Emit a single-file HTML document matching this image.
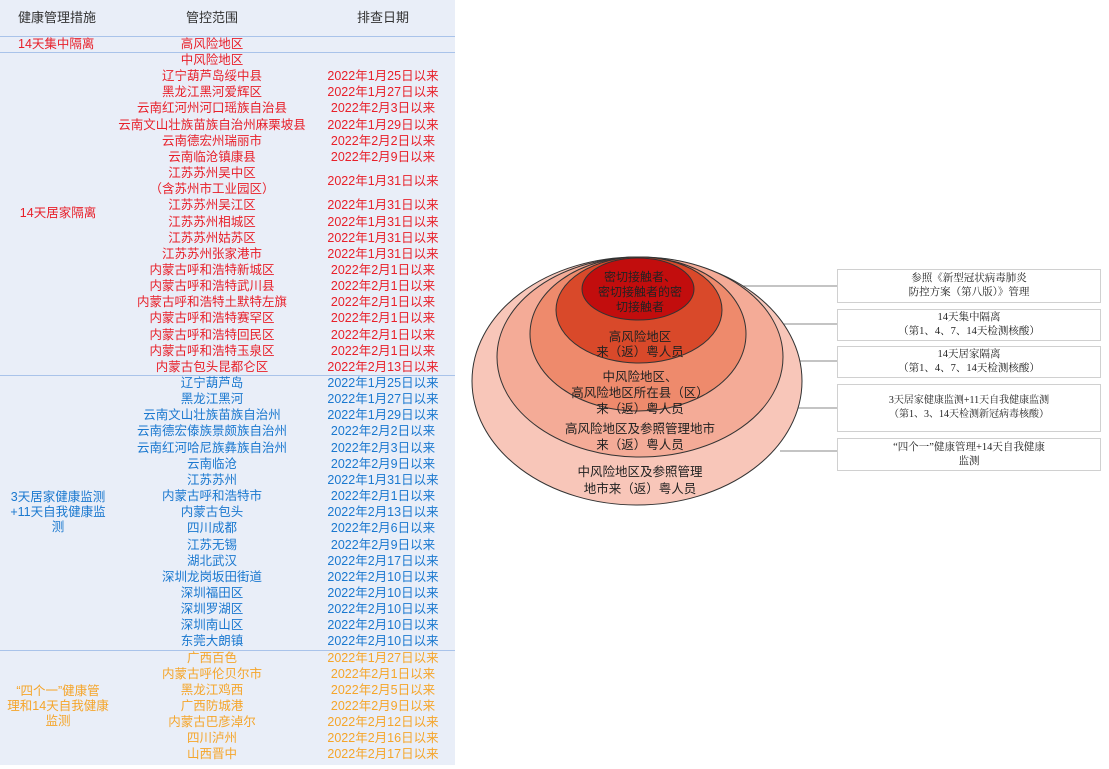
<!DOCTYPE html>
<html><head><meta charset="utf-8"><style>
body{margin:0;width:1109px;height:769px;background:#fff;position:relative;overflow:hidden;font-family:"Liberation Sans","Noto Sans CJK SC",sans-serif}
#tbl{position:absolute;left:0;top:0;width:455px;height:765px;background:#e9eef8}
.t{position:absolute;font-size:12.5px;line-height:16px;white-space:nowrap;text-align:center}
.c2{left:90px;width:244px}.c3{left:318px;width:130px}
.hl{position:absolute;left:0;width:455px;height:1px;background:#a9c3ea}
.box{position:absolute;left:837px;width:264px;border:1px solid #d0d0d0;background:#fff;font-family:"Liberation Serif","Noto Serif CJK SC",serif;font-size:10.5px;line-height:14px;text-align:center;color:#222;display:flex;align-items:center;justify-content:center;box-sizing:border-box}
.el{font-size:12.5px;fill:#222;text-anchor:middle;font-family:"Liberation Sans","Noto Sans CJK SC",sans-serif}
</style></head><body>
<div id="tbl">
<div class="t" style="left:18px;top:10px;color:#333;font-size:13px">健康管理措施</div>
<div class="t c2" style="top:10px;color:#333;font-size:13px">管控范围</div>
<div class="t c3" style="top:10px;color:#333;font-size:13px">排查日期</div>
<div class="hl" style="top:36px"></div>
<div class="t" style="left:18px;top:36px;color:#e8202a">14天集中隔离</div>
<div class="t c2" style="top:36px;color:#e8202a">高风险地区</div>
<div class="hl" style="top:52px"></div>
</div>
<svg width="1109" height="769" style="position:absolute;left:0;top:0">
<g stroke="#888" stroke-width="1">
<line x1="694" y1="286" x2="837" y2="286"/><line x1="720" y1="324" x2="837" y2="324"/>
<line x1="742" y1="361" x2="837" y2="361"/><line x1="765" y1="408" x2="837" y2="408"/><line x1="780" y1="451" x2="837" y2="451"/>
</g>
<g stroke="#333" stroke-width="1">
<ellipse cx="637" cy="381" rx="165" ry="124" fill="#f8c6b9"/>
<ellipse cx="640" cy="357" rx="143" ry="100" fill="#f4ab97"/>
<ellipse cx="638" cy="334" rx="108" ry="77" fill="#ee8a6c"/>
<ellipse cx="639" cy="310" rx="83" ry="53" fill="#d9492a"/>
<ellipse cx="638" cy="289" rx="56" ry="31" fill="#c20d0d"/>
</g>
<text class="el" x="640" y="281" style="font-size:12px">密切接触者、</text>
<text class="el" x="640" y="296" style="font-size:12px">密切接触者的密</text>
<text class="el" x="640" y="311" style="font-size:12px">切接触者</text>
<text class="el" x="640" y="341">高风险地区</text>
<text class="el" x="640" y="356">来（返）粤人员</text>
<text class="el" x="640" y="381">中风险地区、</text>
<text class="el" x="640" y="397">高风险地区所在县（区）</text>
<text class="el" x="640" y="413">来（返）粤人员</text>
<text class="el" x="640" y="433">高风险地区及参照管理地市</text>
<text class="el" x="640" y="449">来（返）粤人员</text>
<text class="el" x="640" y="476">中风险地区及参照管理</text>
<text class="el" x="640" y="493">地市来（返）粤人员</text>
</svg>
<div class="box" style="top:269px;height:34px">参照《新型冠状病毒肺炎<br>防控方案（第八版）》管理</div>
<div class="box" style="top:309px;height:32px">14天集中隔离<br>（第1、4、7、14天检测核酸）</div>
<div class="box" style="top:346px;height:32px">14天居家隔离<br>（第1、4、7、14天检测核酸）</div>
<div class="box" style="top:384px;height:48px;font-size:10px">3天居家健康监测+11天自我健康监测<br>（第1、3、14天检测新冠病毒核酸）</div>
<div class="box" style="top:438px;height:33px">“四个一”健康管理+14天自我健康<br>监测</div>
<script>
const redScopes=["中风险地区","辽宁葫芦岛绥中县","黑龙江黑河爱辉区","云南红河州河口瑶族自治县","云南文山壮族苗族自治州麻栗坡县","云南德宏州瑞丽市","云南临沧镇康县","江苏苏州吴中区<br>（含苏州市工业园区）","江苏苏州吴江区","江苏苏州相城区","江苏苏州姑苏区","江苏苏州张家港市","内蒙古呼和浩特新城区","内蒙古呼和浩特武川县","内蒙古呼和浩特土默特左旗","内蒙古呼和浩特赛罕区","内蒙古呼和浩特回民区","内蒙古呼和浩特玉泉区","内蒙古包头昆都仑区"];
const redDates=["","2022年1月25日以来","2022年1月27日以来","2022年2月3日以来","2022年1月29日以来","2022年2月2日以来","2022年2月9日以来","2022年1月31日以来","2022年1月31日以来","2022年1月31日以来","2022年1月31日以来","2022年1月31日以来","2022年2月1日以来","2022年2月1日以来","2022年2月1日以来","2022年2月1日以来","2022年2月1日以来","2022年2月1日以来","2022年2月13日以来"];
const blueScopes=["辽宁葫芦岛","黑龙江黑河","云南文山壮族苗族自治州","云南德宏傣族景颇族自治州","云南红河哈尼族彝族自治州","云南临沧","江苏苏州","内蒙古呼和浩特市","内蒙古包头","四川成都","江苏无锡","湖北武汉","深圳龙岗坂田街道","深圳福田区","深圳罗湖区","深圳南山区","东莞大朗镇"];
const blueDates=["2022年1月25日以来","2022年1月27日以来","2022年1月29日以来","2022年2月2日以来","2022年2月3日以来","2022年2月9日以来","2022年1月31日以来","2022年2月1日以来","2022年2月13日以来","2022年2月6日以来","2022年2月9日以来","2022年2月17日以来","2022年2月10日以来","2022年2月10日以来","2022年2月10日以来","2022年2月10日以来","2022年2月10日以来"];
const orangeScopes=["广西百色","内蒙古呼伦贝尔市","黑龙江鸡西","广西防城港","内蒙古巴彦淖尔","四川泸州","山西晋中"];
const orangeDates=["2022年1月27日以来","2022年2月1日以来","2022年2月5日以来","2022年2月9日以来","2022年2月12日以来","2022年2月16日以来","2022年2月17日以来"];
const groups=[["14天居家隔离",redScopes,redDates,"#e8202a"],["3天居家健康监测<br>+11天自我健康监<br>测",blueScopes,blueDates,"#1a78cf"],["“四个一”健康管<br>理和14天自我健康<br>监测",orangeScopes,orangeDates,"#f5a52a"]];
const tbl=document.getElementById('tbl');
const LH=16.15;let y=52;
function mk(cls,html,top,color,lh){const d=document.createElement('div');d.className='t '+cls;d.innerHTML=html;d.style.top=top+'px';d.style.color=color;if(lh)d.style.lineHeight=lh+'px';tbl.appendChild(d);return d;}
groups.forEach((g,gi)=>{
  const start=y;
  g[1].forEach((s,i)=>{
    const n=s.includes('<br>')?2:1;
    const a=mk('c2',s,y,g[3],LH);
    
    
    const b=mk('c3',g[2][i],y+(n-1)*LH/2,g[3],LH);
    
    
    y+=n*LH;
  });
  const lines=g[0].split('<br>').length;
  const m=mk('',g[0],(start+y)/2-lines*15/2,g[3],15);
  m.style.left='0px';m.style.width='116px';
  
  
  if(gi<2){const l=document.createElement('div');l.className='hl';l.style.top=y+'px';
  
  
  tbl.appendChild(l);}
});
</script>
</body></html>
